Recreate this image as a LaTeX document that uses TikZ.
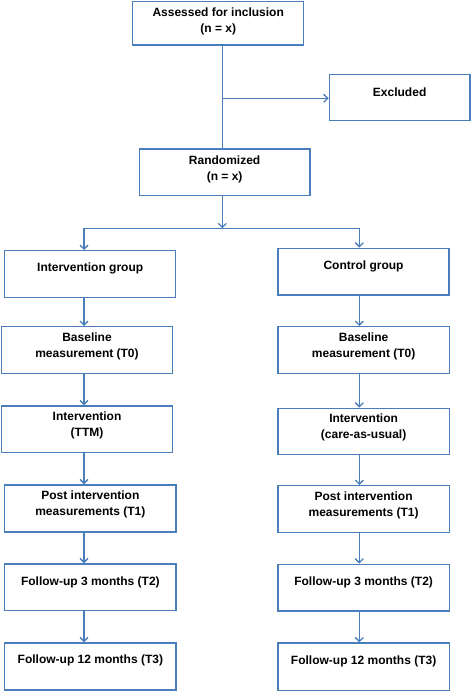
\documentclass[tikz,border=0pt]{standalone}
\usepackage{fontspec}
\setmainfont{Liberation Sans}
\usetikzlibrary{arrows.meta}
\definecolor{flowblue}{HTML}{4A7EBB}
\newcommand\flowbox[7]{%
  \node[box, minimum width={(#4-#2)*1pt}, minimum height={(#5-#3)*1pt}] (#1) at ({(#2+#4)/2},{(#3+#5)/2}) {};
  \node[txt] (#1t) at ({(#2+#4)/2},#6) {#7};
}
\begin{document}
\begin{tikzpicture}[x=1pt,y=-1pt,
  box/.style={draw=flowblue, line width=1.4pt, fill=white, inner sep=0pt},
  txt/.style={font=\fontsize{12}{16}\selectfont\bfseries, align=center, inner sep=0pt},
  arr/.style={draw=flowblue, line width=1.3pt, -{Straight Barb[length=4pt,width=8pt,line width=1.3pt]}},
  ln/.style={draw=flowblue, line width=1.3pt}]
\useasboundingbox (0,0) rectangle (472,692);
\coordinate (xl) at (84,0);
\coordinate (xr) at (359.3,0);
\coordinate (xm) at (222.3,0);
\flowbox{assess}{132.7}{1.3}{303.7}{45}{21}{Assessed for inclusion\\(n = x)}
\flowbox{excl}{329.3}{74.7}{470}{120.7}{92}{Excluded}
\flowbox{rand}{139.3}{149}{310}{195.7}{169.5}{Randomized\\(n = x)}
\flowbox{ig}{4.7}{250.7}{175.7}{297.7}{268}{Intervention group}
\flowbox{cg}{278}{248.3}{449}{295}{266}{Control group}
\flowbox{bl}{1.7}{326.7}{172.3}{373.7}{346.3}{Baseline\\measurement (T0)}
\flowbox{br}{278}{326.7}{449.3}{373.7}{346.3}{Baseline\\measurement (T0)}
\flowbox{il}{1.7}{406}{172.3}{452.3}{425.3}{Intervention\\(TTM)}
\flowbox{ir}{278}{408.3}{449.3}{454.3}{427.5}{Intervention\\(care-as-usual)}
\flowbox{pl}{4.7}{485}{176}{532}{504.7}{Post intervention\\measurements (T1)}
\flowbox{pr}{278}{485.7}{449.3}{532.3}{505.5}{Post intervention\\measurements (T1)}
\flowbox{fl}{4.7}{564}{176}{610.7}{582}{Follow-up 3 months (T2)}
\flowbox{fr}{278}{564.3}{449.3}{611}{582}{Follow-up 3 months (T2)}
\flowbox{gl}{4.7}{643}{176}{690}{660.7}{Follow-up 12 months (T3)}
\flowbox{gr}{278}{643}{449.3}{690.7}{661}{Follow-up 12 months (T3)}
% connectors
\draw[ln] (assess.south -| xm) -- (rand.north -| xm);
\coordinate (split) at (222.3,98.3);
\draw[arr] (split) -- (split -| excl.west);
\coordinate (fork) at (222.3,228.3);
\draw[arr] (rand.south -| xm) -- (fork);
\draw[ln] (fork -| xl) -- (fork -| xr);
\draw[arr] (fork -| xl) -- (ig.north -| xl);
\draw[arr] (fork -| xr) -- (cg.north -| xr);
\draw[arr] (ig.south -| xl) -- (bl.north -| xl);
\draw[arr] (bl.south -| xl) -- (il.north -| xl);
\draw[arr] (il.south -| xl) -- (pl.north -| xl);
\draw[arr] (pl.south -| xl) -- (fl.north -| xl);
\draw[arr] (fl.south -| xl) -- (gl.north -| xl);
\draw[arr] (cg.south -| xr) -- (br.north -| xr);
\draw[arr] (br.south -| xr) -- (ir.north -| xr);
\draw[arr] (ir.south -| xr) -- (pr.north -| xr);
\draw[arr] (pr.south -| xr) -- (fr.north -| xr);
\draw[arr] (fr.south -| xr) -- (gr.north -| xr);
\end{tikzpicture}
\end{document}
